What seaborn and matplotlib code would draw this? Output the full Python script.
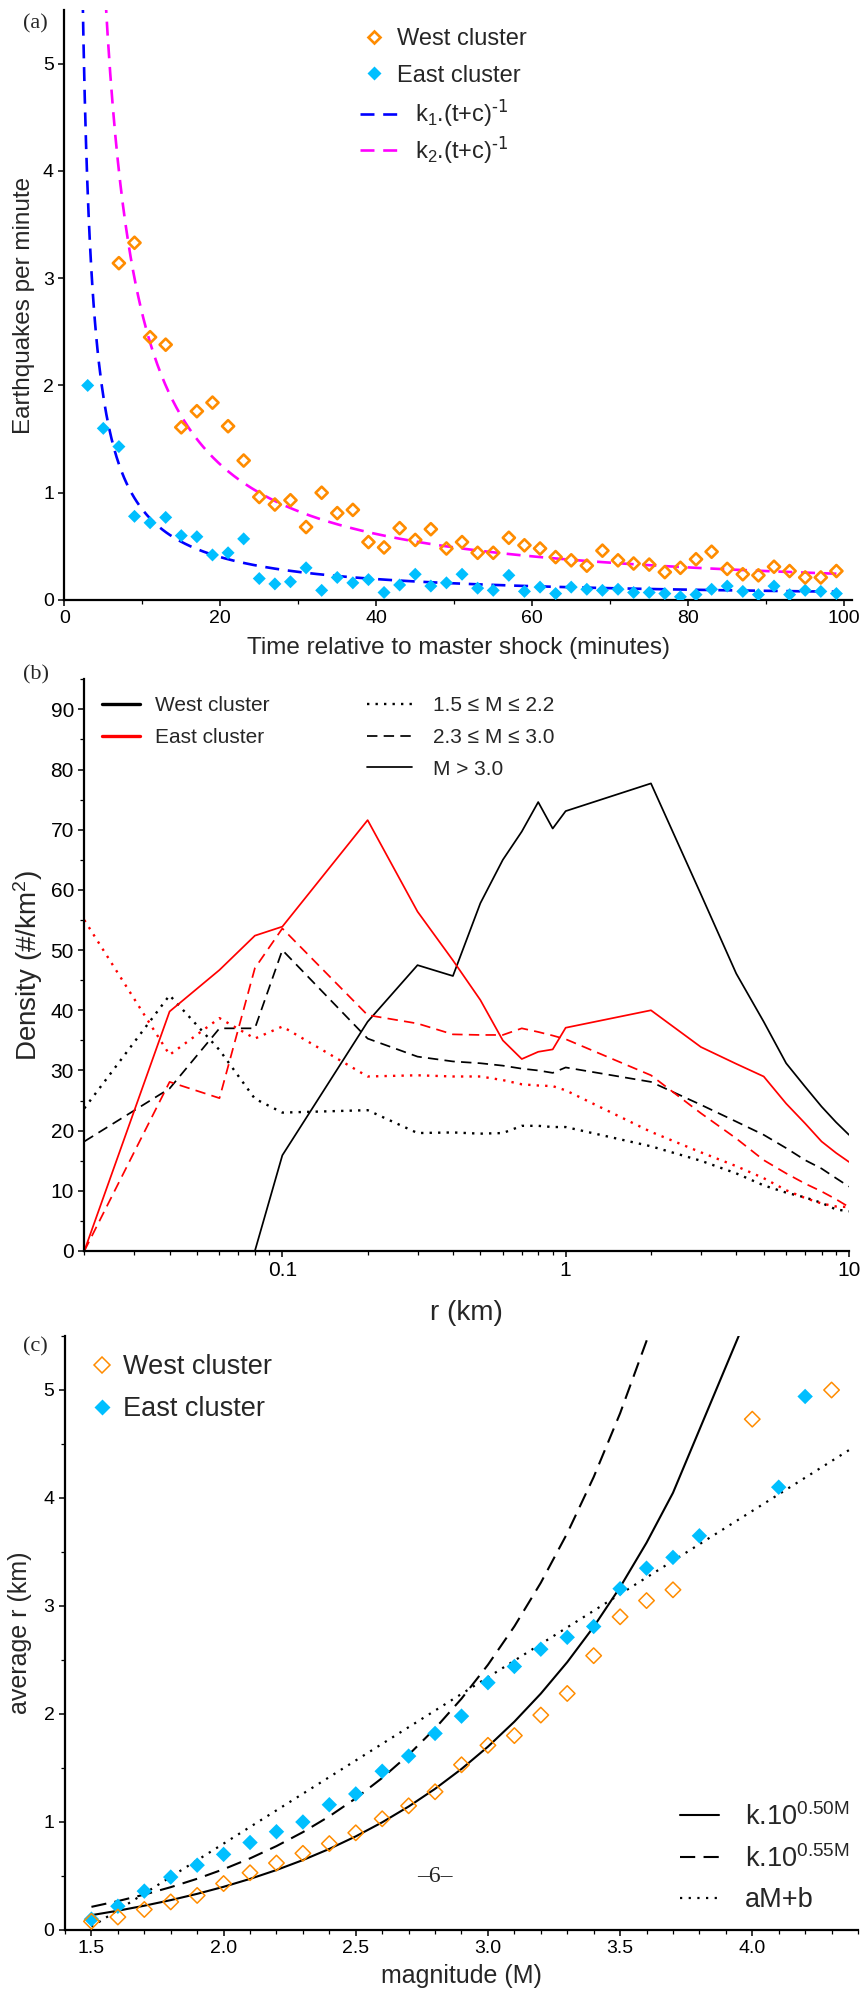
import numpy as np
import matplotlib
matplotlib.use("Agg")
import matplotlib.pyplot as plt
from matplotlib.lines import Line2D
from matplotlib.ticker import MultipleLocator, FixedLocator, FixedFormatter, NullFormatter, FormatStrFormatter
import seaborn as sns

sns.set_theme(style="ticks")
plt.rcParams["font.family"] = ["Liberation Sans", "DejaVu Sans"]
plt.rcParams["mathtext.default"] = "regular"
plt.rcParams["axes.linewidth"] = 1.6

# ---------------- data: (a) aftershock rate ----------------
west_minutes = list(range(7, 100, 2))
west_rate = [3.14, 3.33, 2.45, 2.38, 1.61, 1.76, 1.84, 1.62, 1.30, 0.96,
             0.89, 0.93, 0.68, 1.00, 0.81, 0.84, 0.54, 0.49, 0.67, 0.56,
             0.66, 0.48, 0.54, 0.44, 0.44, 0.58, 0.51, 0.48, 0.40, 0.37,
             0.32, 0.46, 0.37, 0.34, 0.33, 0.26, 0.30, 0.38, 0.45, 0.29,
             0.24, 0.23, 0.31, 0.27, 0.21, 0.21, 0.27]
east_minutes = list(range(3, 100, 2))
east_rate = [2.00, 1.60, 1.43, 0.78, 0.72, 0.77, 0.60, 0.59, 0.42, 0.44,
             0.57, 0.20, 0.15, 0.17, 0.30, 0.09, 0.21, 0.16, 0.19, 0.07,
             0.14, 0.24, 0.13, 0.16, 0.24, 0.11, 0.09, 0.23, 0.08, 0.12,
             0.06, 0.12, 0.10, 0.09, 0.10, 0.07, 0.07, 0.06, 0.03, 0.05,
             0.10, 0.13, 0.08, 0.05, 0.13, 0.05, 0.09, 0.08, 0.06]
# Omori fits k/(t+c)
k1, k2, c_omori = 7.6, 24.0, -1.0

# ---------------- data: (b) density vs distance ----------------
r_km = [0.02, 0.04, 0.06, 0.08, 0.1, 0.2, 0.3, 0.4, 0.5, 0.6, 0.7, 0.8,
        0.9, 1, 2, 3, 4, 5, 6, 7, 8, 9, 10]
west_small = [23.7, 42.5, 33.4, 25.3, 23.0, 23.4, 19.6, 19.7, 19.5, 19.6,
              20.8, 20.8, 20.6, 20.6, 17.4, 15.0, 12.9, 10.9, 9.7, 8.9,
              8.0, 6.9, 6.6]
west_mid = [18.2, 27.0, 37.0, 37.0, 50.0, 35.3, 32.3, 31.5, 31.2, 30.8,
            30.3, 30.0, 29.6, 30.5, 28.1, 24.3, 21.5, 19.3, 17.1, 15.1,
            13.7, 12.1, 10.7]
west_large = [np.nan, np.nan, np.nan, 0.0, 15.9, 38.1, 47.5, 45.7, 57.8,
              65.0, 69.7, 74.6, 70.2, 73.1, 77.7, 59.3, 46.1, 38.1, 31.2,
              27.3, 24.0, 21.4, 19.3]
east_small = [55.0, 32.6, 38.7, 35.3, 37.3, 29.0, 29.2, 29.0, 29.0, 28.4,
              27.7, 27.5, 27.4, 26.7, 19.8, 16.4, 14.1, 12.1, 10.1, 8.8,
              7.9, 7.4, 7.3]
east_mid = [0.0, 28.1, 25.4, 47.0, 53.6, 39.2, 37.8, 36.0, 35.9, 35.9,
            37.0, 36.4, 35.8, 35.2, 29.2, 22.9, 18.7, 15.1, 12.9, 11.2,
            9.9, 8.6, 7.3]
east_large = [0.0, 39.8, 46.7, 52.4, 53.9, 71.6, 56.4, 48.3, 41.7, 35.0,
              31.9, 33.1, 33.5, 37.1, 40.0, 33.9, 31.1, 29.0, 24.5, 21.2,
              18.2, 16.3, 14.8]

# ---------------- data: (c) average distance vs magnitude ----------------
west_mag = [1.5, 1.6, 1.7, 1.8, 1.9, 2.0, 2.1, 2.2, 2.3, 2.4, 2.5, 2.6, 2.7,
            2.8, 2.9, 3.0, 3.1, 3.2, 3.3, 3.4, 3.5, 3.6, 3.7, 4.0, 4.3]
west_r = [0.08, 0.12, 0.19, 0.26, 0.32, 0.43, 0.53, 0.62, 0.71, 0.80, 0.90,
          1.03, 1.15, 1.28, 1.53, 1.71, 1.80, 1.99, 2.19, 2.54, 2.90, 3.05,
          3.15, 4.73, 5.00]
east_mag = [1.5, 1.6, 1.7, 1.8, 1.9, 2.0, 2.1, 2.2, 2.3, 2.4, 2.5, 2.6, 2.7,
            2.8, 2.9, 3.0, 3.1, 3.2, 3.3, 3.4, 3.5, 3.6, 3.7, 3.8, 4.1, 4.2]
east_r = [0.10, 0.22, 0.36, 0.49, 0.60, 0.70, 0.81, 0.91, 1.00, 1.16, 1.26,
          1.47, 1.61, 1.82, 1.98, 2.29, 2.44, 2.60, 2.71, 2.81, 3.16, 3.35,
          3.45, 3.65, 4.10, 4.94]
# fitted relations
k_050, off_050 = 0.060, -0.20
k_055, off_055 = 0.059, -0.18
a_lin, b_lin = 1.54, -2.28
lin_mag = [1.5, 4.37]

ORANGE = "#FF8C00"
SKY = "#00BFFF"
W, H = 866, 1995

fig = plt.figure(figsize=(W / 100, H / 100), dpi=100)


def axes_px(left, top, right, bottom):
    return fig.add_axes([left / W, 1 - bottom / H, (right - left) / W, (bottom - top) / H])


def fig_pt(px, py):
    return (px / W, 1 - py / H)


def style_axes(ax, tick_size):
    sns.despine(ax=ax)
    ax.tick_params(which="major", direction="out", length=4.5, width=1.1,
                   labelsize=tick_size, pad=3, color="black", labelcolor="black")
    ax.tick_params(which="minor", direction="out", length=2.6, width=0.9, color="black")
    for s in ("left", "bottom"):
        ax.spines[s].set_color("black")
        ax.spines[s].set_linewidth(1.6)
    ax.grid(False)


def place_legend(ax, handles, labels, fs, handle_x, handle_len, text_x, rows, keep):
    """Frameless legend whose handles start at handle_x (px) and whose
    label rows are centred on the given pixel rows."""
    lp = fs * 100 / 72
    spacing = 0.5
    pad = (text_x - handle_x - handle_len) / lp
    top = rows[0] - 0.5 * lp
    for _ in range(3):
        leg = ax.legend(handles=handles, labels=labels, fontsize=fs, frameon=False,
                        loc="upper left", bbox_to_anchor=fig_pt(handle_x, top),
                        bbox_transform=fig.transFigure, borderpad=0, borderaxespad=0,
                        handlelength=handle_len / lp, handletextpad=pad,
                        labelspacing=spacing)
        fig.canvas.draw()
        boxes = [t.get_window_extent() for t in leg.get_texts()]
        centres = [H - 0.5 * (b.y0 + b.y1) for b in boxes]
        if len(rows) > 1:
            want = (rows[-1] - rows[0]) / (len(rows) - 1)
            got = (centres[-1] - centres[0]) / (len(rows) - 1)
            spacing += (want - got) / lp
        top += rows[0] - centres[0]
        pad += (text_x - boxes[0].x0) / lp
        leg.remove()
    leg = ax.legend(handles=handles, labels=labels, fontsize=fs, frameon=False,
                    loc="upper left", bbox_to_anchor=fig_pt(handle_x, top),
                    bbox_transform=fig.transFigure, borderpad=0, borderaxespad=0,
                    handlelength=handle_len / lp, handletextpad=pad,
                    labelspacing=spacing)
    if keep:
        ax.add_artist(leg)
    return leg


# =============== (a) ===============
ax1 = axes_px(64.3, 10, 852, 600)
t_fit = np.linspace(1.15, 99, 600)
dash_a = (0, (5.3, 3.3))
sns.lineplot(x=t_fit, y=k1 / (t_fit + c_omori), ax=ax1, color="#0000FF",
             lw=1.9, linestyle=dash_a, zorder=2)
sns.lineplot(x=t_fit, y=k2 / (t_fit + c_omori), ax=ax1, color="#FF00FF",
             lw=1.9, linestyle=dash_a, zorder=2)
sns.scatterplot(x=east_minutes, y=east_rate, ax=ax1, marker="D", s=44,
                color=SKY, edgecolor="none", linewidth=0, zorder=3)
sns.scatterplot(x=west_minutes, y=west_rate, ax=ax1, marker="D", s=38,
                color=ORANGE, facecolors="none", edgecolor=ORANGE,
                linewidth=1.9, zorder=4)
ax1.set_xlim(0, 101)
ax1.set_ylim(0, 5.5)
ax1.xaxis.set_major_locator(MultipleLocator(20))
ax1.xaxis.set_minor_locator(MultipleLocator(10))
ax1.yaxis.set_major_locator(MultipleLocator(1))
style_axes(ax1, 14)
ax1.set_xlabel("Time relative to master shock (minutes)", fontsize=17.5, labelpad=7)
ax1.set_ylabel("Earthquakes per minute", fontsize=17.5, labelpad=6)

place_legend(ax1,
             [Line2D([], [], ls="none", marker="D", ms=6.5, mfc="none", mec=ORANGE, mew=1.9),
              Line2D([], [], ls="none", marker="D", ms=7.0, mfc=SKY, mec="none")],
             ["West cluster", "East cluster"], 17, 362, 24, 397, [39, 75.5], keep=True)
place_legend(ax1,
             [Line2D([], [], color="#0000FF", lw=1.9, ls=dash_a),
              Line2D([], [], color="#FF00FF", lw=1.9, ls=dash_a)],
             [r"k$_1$.(t+c)$^{\text{-1}}$", r"k$_2$.(t+c)$^{\text{-1}}$"], 17,
             360, 42, 415, [113.5, 150], keep=False)

# =============== (b) ===============
ax2 = axes_px(84.3, 679.3, 849, 1251)
ax2.set_xscale("log")
lw_b = 1.25
dot_b = (0, (1, 2.6))
dash_b = (0, (6, 3.6))
series_b = [
    (west_small, "black", dot_b, 1.7),
    (west_mid, "black", dash_b, lw_b),
    (west_large, "black", "-", lw_b),
    (east_small, "red", dot_b, 1.7),
    (east_mid, "red", dash_b, lw_b),
    (east_large, "red", "-", lw_b),
]
for vals, col, ls, lw in series_b:
    sns.lineplot(x=r_km, y=vals, ax=ax2, color=col, linestyle=ls, lw=lw)
ax2.set_xlim(0.02, 10)
ax2.set_ylim(0, 95)
ax2.xaxis.set_major_locator(FixedLocator([0.1, 1, 10]))
ax2.xaxis.set_major_formatter(FixedFormatter(["0.1", "1", "10"]))
minor_r = [m * d for d in (0.01, 0.1, 1) for m in range(2, 10)]
ax2.xaxis.set_minor_locator(FixedLocator([v for v in minor_r if 0.02 <= v <= 10]))
ax2.xaxis.set_minor_formatter(NullFormatter())
ax2.yaxis.set_major_locator(MultipleLocator(10))
ax2.yaxis.set_minor_locator(MultipleLocator(5))
style_axes(ax2, 15)
ax2.set_xlabel("r (km)", fontsize=20, labelpad=14)
ax2.set_ylabel("Density (#/km$^2$)", fontsize=20, labelpad=4)

place_legend(ax2,
             [Line2D([], [], color="black", lw=2.4), Line2D([], [], color="red", lw=2.4)],
             ["West cluster", "East cluster"], 15, 102, 38, 155, [705.5, 737.8], keep=True)
place_legend(ax2,
             [Line2D([], [], color="black", lw=1.7, ls=dot_b),
              Line2D([], [], color="black", lw=lw_b, ls=dash_b),
              Line2D([], [], color="black", lw=lw_b)],
             ["1.5 \u2264 M \u2264 2.2", "2.3 \u2264 M \u2264 3.0", "M > 3.0"], 15,
             367, 45, 433, [705.5, 737.3, 769.1], keep=False)

# =============== (c) ===============
ax3 = axes_px(65, 1336, 858, 1930)
west_mag_arr = np.array(west_mag)
east_mag_arr = np.array(east_mag)
lin_mag_arr = np.array(lin_mag)
dash_c = (0, (7.3, 4))
dot_c = (0, (1, 2.9))
sns.lineplot(x=west_mag_arr, y=k_050 * 10 ** (0.50 * west_mag_arr) + off_050, ax=ax3,
             color="black", lw=1.5, linestyle="-")
sns.lineplot(x=east_mag_arr, y=k_055 * 10 ** (0.55 * east_mag_arr) + off_055, ax=ax3,
             color="black", lw=1.5, linestyle=dash_c)
sns.lineplot(x=lin_mag_arr, y=a_lin * lin_mag_arr + b_lin, ax=ax3,
             color="black", lw=1.6, linestyle=dot_c)
sns.scatterplot(x=east_mag, y=east_r, ax=ax3, marker="D", s=62,
                color=SKY, edgecolor="none", linewidth=0, zorder=3)
sns.scatterplot(x=west_mag, y=west_r, ax=ax3, marker="D", s=62,
                color=ORANGE, facecolors="none", edgecolor=ORANGE,
                linewidth=1.1, zorder=4)
ax3.set_xlim(1.4, 4.4)
ax3.set_ylim(0, 5.5)
ax3.xaxis.set_major_locator(MultipleLocator(0.5))
ax3.xaxis.set_minor_locator(MultipleLocator(0.1))
ax3.xaxis.set_major_formatter(FormatStrFormatter("%.1f"))
ax3.yaxis.set_major_locator(MultipleLocator(1))
ax3.yaxis.set_minor_locator(MultipleLocator(0.5))
style_axes(ax3, 14)
ax3.set_xlabel("magnitude (M)", fontsize=18, labelpad=5)
ax3.set_ylabel("average r (km)", fontsize=18, labelpad=8)

place_legend(ax3,
             [Line2D([], [], ls="none", marker="D", ms=8.5, mfc="none", mec=ORANGE, mew=1.1),
              Line2D([], [], ls="none", marker="D", ms=8.5, mfc=SKY, mec="none")],
             ["West cluster", "East cluster"], 19.5, 88, 28, 123, [1367.5, 1409.2], keep=True)
place_legend(ax3,
             [Line2D([], [], color="black", lw=1.5),
              Line2D([], [], color="black", lw=1.5, ls=dash_c),
              Line2D([], [], color="black", lw=1.6, ls=dot_c)],
             [r"k.10$^{0.50M}$", r"k.10$^{0.55M}$", "aM+b"], 19.5,
             680, 39, 745, [1817, 1858, 1900], keep=False)

# panel tags and page number
for tag, (px, py) in {"(a)": (35, 24), "(b)": (36, 675), "(c)": (35, 1347)}.items():
    fig.text(*fig_pt(px, py), tag, fontsize=16, family="Liberation Serif",
             ha="center", va="center")
fig.text(*fig_pt(435, 1877), "\u20136\u2013", fontsize=17, family="Liberation Serif",
         ha="center", va="center")

fig.savefig("out.png", dpi=100, facecolor="white")
